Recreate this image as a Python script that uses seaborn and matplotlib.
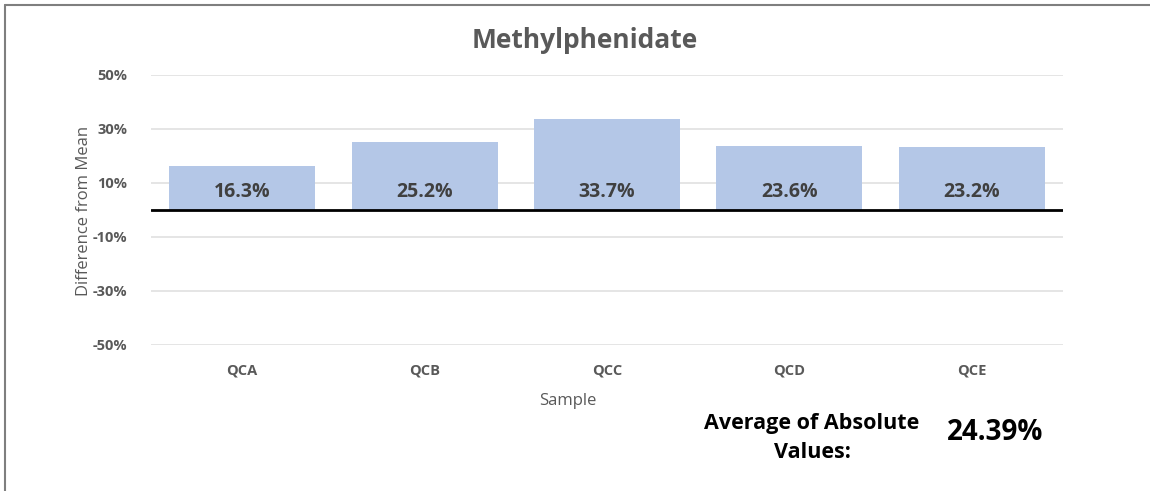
import matplotlib
matplotlib.use("Agg")
import matplotlib.pyplot as plt
from matplotlib.lines import Line2D
from matplotlib.ticker import FuncFormatter
import pandas as pd
import seaborn as sns

samples = ["QCA", "QCB", "QCC", "QCD", "QCE"]
diff_from_mean = [0.163, 0.252, 0.337, 0.236, 0.232]
bar_labels = ["16.3%", "25.2%", "33.7%", "23.6%", "23.2%"]
y_ticks = [-0.5, -0.3, -0.1, 0.1, 0.3, 0.5]
avg_abs_text = "24.39%"

sns.set_theme(style="white")
plt.rcParams["font.family"] = ["Open Sans", "DejaVu Sans"]

df = pd.DataFrame({"Sample": samples, "Diff": diff_from_mean})

W, H = 1150, 491
fig = plt.figure(figsize=(W / 100, H / 100), dpi=100)
ax = fig.add_axes([151 / W, (H - 345) / H, (1063 - 151) / W, 270 / H])

sns.barplot(data=df, x="Sample", y="Diff", color="#B4C7E7", width=0.8,
            saturation=1, linewidth=0, ax=ax, zorder=2)

ax.set_ylim(-0.5, 0.5)
ax.set_xlim(-0.5, len(samples) - 0.5)
ax.set_yticks(y_ticks)
ax.yaxis.set_major_formatter(FuncFormatter(lambda v, p: f"{v * 100:.0f}%"))
ax.grid(axis="y", color="#E3E3E3", linewidth=1.3, zorder=0)
ax.axhline(0, color="black", linewidth=2, zorder=3)
for s in ax.spines.values():
    s.set_visible(False)
ax.tick_params(axis="y", length=0, labelsize=10.5, labelcolor="#595959", pad=17)
ax.tick_params(axis="x", length=0, labelsize=10.5, labelcolor="#595959", pad=13)
for lab in ax.get_xticklabels() + ax.get_yticklabels():
    lab.set_fontweight("bold")
ax.set_xlabel("")
ax.set_ylabel("")

for i, lab in enumerate(bar_labels):
    ax.annotate(lab, xy=(i, 0), xytext=(0, 6), textcoords="offset points",
                ha="center", va="bottom", fontsize=14, fontweight="bold",
                color="#404040", zorder=4)

fig.text(585 / W, 1 - 40 / H, "Methylphenidate", ha="center", va="center",
         fontsize=19, fontweight="bold", color="#595959")
fig.text(568 / W, 1 - 401 / H, "Sample", ha="center", va="center",
         fontsize=12, color="#595959")
fig.text(84 / W, 1 - 211 / H, "Difference from Mean", ha="center", va="center",
         rotation=90, fontsize=12, color="#595959")
fig.text(812 / W, 1 - 438 / H, "Average of Absolute\nValues:", ha="center",
         va="center", fontsize=15.5, fontweight="bold", color="black",
         linespacing=1.45)
fig.text(995 / W, 1 - 433 / H, avg_abs_text, ha="center", va="center",
         fontsize=20, fontweight="bold", color="black")

fig.add_artist(Line2D([5 / W, 1], [1 - 5 / H, 1 - 5 / H],
                      transform=fig.transFigure, color="#7F7F7F", linewidth=1.5))
fig.add_artist(Line2D([5 / W, 5 / W], [0, 1 - 5 / H],
                      transform=fig.transFigure, color="#7F7F7F", linewidth=1.5))

fig.savefig("out.png", dpi=100)
